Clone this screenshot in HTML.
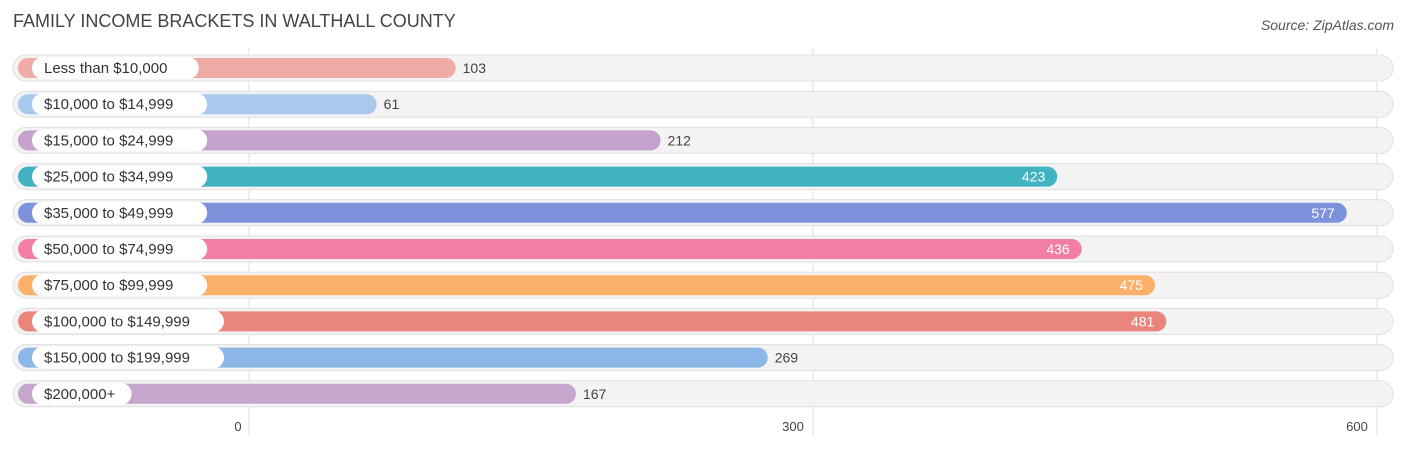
<!DOCTYPE html>
<html><head><meta charset="utf-8"><style>
body{margin:0;background:#fff;font-family:"Liberation Sans",sans-serif;}
</style></head><body>
<svg width="1406" height="450" xmlns="http://www.w3.org/2000/svg" font-family="Liberation Sans, sans-serif">
<text x="13" y="27" font-size="18" fill="#444">FAMILY INCOME BRACKETS IN WALTHALL COUNTY</text>
<text x="1394" y="30" font-size="14" fill="#555" font-style="italic" text-anchor="end">Source: ZipAtlas.com</text>
<g id="grid"></g><g id="rows"></g><g id="ticks"></g>
</svg>
<script>
const categories=["Less than $10,000","$10,000 to $14,999","$15,000 to $24,999","$25,000 to $34,999","$35,000 to $49,999","$50,000 to $74,999","$75,000 to $99,999","$100,000 to $149,999","$150,000 to $199,999","$200,000+"];
const values=[103,61,212,423,577,436,475,481,269,167];
const colors=["#f0aba6","#a8c8ec","#c4a2cb","#41b2c0","#7d92dd","#f27ea3","#fbb06a","#ea857c","#8db7e6","#c6a6cc"];
const tickValues=[0,300,600];
const NS="http://www.w3.org/2000/svg";
const x=v=>249+v*1.88;
const rowY=i=>68+i*36.2;
function mk(tag,attrs,parent){const e=document.createElementNS(NS,tag);for(const k in attrs)e.setAttribute(k,attrs[k]);parent.appendChild(e);return e;}
const grid=document.getElementById('grid'),rows=document.getElementById('rows'),ticks=document.getElementById('ticks');
tickValues.forEach(t=>{
 const l=mk('line',{x1:x(t),x2:x(t),y1:48,y2:436,stroke:'#ddd','stroke-width':1},grid);
 
 
 const tx=mk('text',{x:x(t)-(t===0?11:20)+ (t===0?0:0),y:431,'font-size':13,fill:'#444','text-anchor':t===0?'middle':'middle'},ticks);
 tx.setAttribute('x',t===0?238:x(t)-20);
 tx.textContent=t;
 
 
});
categories.forEach((c,i)=>{
 const cy=rowY(i),v=values[i];
 const g=mk('g',{},rows);
 
 
 const tr=mk('rect',{x:13,y:cy-13,width:1380,height:26,rx:13,fill:'#f3f3f3',stroke:'#e0e0e0','stroke-width':1},g);
 
 
 const end=x(v)+13;
 const b=mk('rect',{x:18,y:cy-10,width:end-18,height:20,rx:10,fill:colors[i]},g);
 
 
 const p=mk('rect',{x:32,y:cy-11,width:c.length*8.4+24,height:22,rx:11,fill:'#fff'},g);
 
 
 const lt=mk('text',{x:44,y:cy+5,'font-size':15,fill:'#333'},g);
 lt.textContent=c;
 
 
 const inside=v>=400;
 const vt=mk('text',{x:inside?end-12:end+7,y:cy+5,'font-size':14,fill:inside?'#fff':'#444','text-anchor':inside?'end':'start'},g);
 vt.textContent=v;
 
 
});
</script>
</body></html>
